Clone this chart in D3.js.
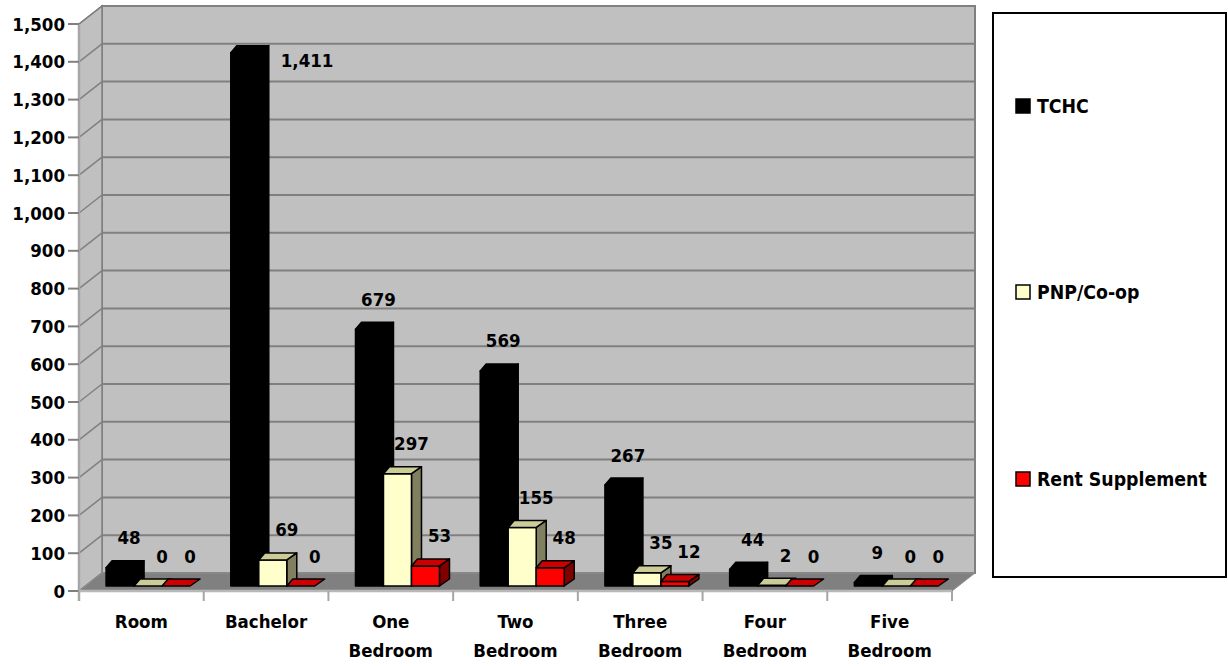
<!DOCTYPE html>
<html>
<head>
<meta charset="utf-8">
<script src="https://cdn.jsdelivr.net/npm/d3@7"></script>
<style>
  html, body { margin: 0; padding: 0; background: #fff; }
  svg text { font-family: "DejaVu Sans", Verdana, sans-serif; font-weight: bold; font-stretch: condensed; fill: #000; }
</style>
</head>
<body>
<svg id="chart" width="1228" height="666"></svg>
<script>
// Units by size, three housing providers
const categories = ["Room", "Bachelor", "One Bedroom", "Two Bedroom", "Three Bedroom", "Four Bedroom", "Five Bedroom"];
const seriesNames = ["TCHC", "PNP/Co-op", "Rent Supplement"];
const tchc = [48, 1411, 679, 569, 267, 44, 9];
const pnpCoop = [0, 69, 297, 155, 35, 2, 0];
const rentSupplement = [0, 0, 53, 48, 12, 0, 0];
const yTicks = [0, 100, 200, 300, 400, 500, 600, 700, 800, 900, 1000, 1100, 1200, 1300, 1400, 1500];

const seriesValues = [tchc, pnpCoop, rentSupplement];
const faceColors = [
  { front: "#000000", top: "#000000", side: "#000000" },
  { front: "#FFFFCC", top: "#CCCC99", side: "#808060" },
  { front: "#FF0000", top: "#CC0000", side: "#800000" }
];

const svg = d3.select("#chart");
const fmt = d3.format(",");

// Front plane of the 3D box and its depth shift
const frontLeft = 79, frontRight = 952;
const depthX = 23, depthY = -18;
const y = d3.scaleLinear().domain([0, 1500]).range([591, 24]);
const x = d3.scaleBand().domain(categories).range([frontLeft, frontRight]);
const barBase = 586;
const yBar = d3.scaleLinear().domain([0, 1500]).range([barBase, barBase - (y(0) - y(1500))]);
const sub = d3.scaleBand().domain(seriesNames)
  .range([x.bandwidth() * 0.217, x.bandwidth() * 0.217 + 84]);

// Back wall
const backTop = y(1500) + depthY, backBottom = y(0) + depthY;
svg.append("rect")
  .attr("x", frontLeft + depthX).attr("y", backTop)
  .attr("width", frontRight - frontLeft).attr("height", backBottom - backTop)
  .attr("fill", "#C0C0C0").attr("stroke", "#808080").attr("stroke-width", 2);

// Left side wall
svg.append("polygon")
  .attr("points", [[frontLeft, y(1500)], [frontLeft + depthX, backTop], [frontLeft + depthX, backBottom], [frontLeft, y(0)]].join(" "))
  .attr("fill", "#C0C0C0").attr("stroke", "#808080").attr("stroke-width", 1.5);

// Gridlines on back wall and their connectors on the side wall
const grid = svg.append("g");
yTicks.forEach(t => {
  grid.append("line")
    .attr("x1", frontLeft + depthX).attr("x2", frontRight + depthX)
    .attr("y1", y(t) + depthY).attr("y2", y(t) + depthY)
    .attr("stroke", "#808080").attr("stroke-width", 2);
  grid.append("line")
    .attr("x1", frontLeft).attr("x2", frontLeft + depthX)
    .attr("y1", y(t)).attr("y2", y(t) + depthY)
    .attr("stroke", "#808080").attr("stroke-width", 1.5);
});

// Floor
svg.append("polygon")
  .attr("points", [[frontLeft, y(0)], [frontLeft + depthX, backBottom], [frontRight + depthX, backBottom], [frontRight, y(0)]].join(" "))
  .attr("fill", "#808080").attr("stroke", "#909090").attr("stroke-width", 1);

// Value axis: front edge line, ticks, labels
svg.append("line")
  .attr("x1", frontLeft).attr("x2", frontLeft)
  .attr("y1", y(1500)).attr("y2", y(0) + 10)
  .attr("stroke", "#A6A6A6").attr("stroke-width", 2.5);
const yAxis = svg.append("g");
yTicks.forEach(t => {
  yAxis.append("line")
    .attr("x1", frontLeft - 11).attr("x2", frontLeft)
    .attr("y1", y(t)).attr("y2", y(t))
    .attr("stroke", "#808080").attr("stroke-width", 2);
  yAxis.append("text")
    .attr("x", frontLeft - 14).attr("y", y(t) + 6.5)
    .attr("text-anchor", "end")
    .attr("font-size", 18.5)
    .text(fmt(t));
});

// Category axis: front edge, ticks, labels
svg.append("line")
  .attr("x1", frontLeft).attr("x2", frontRight)
  .attr("y1", y(0)).attr("y2", y(0))
  .attr("stroke", "#B8B8B8").attr("stroke-width", 2.5);
const xEdges = categories.map(c => x(c)).concat([frontRight]);
xEdges.forEach(e => {
  svg.append("line")
    .attr("x1", e).attr("x2", e)
    .attr("y1", y(0)).attr("y2", y(0) + 10)
    .attr("stroke", "#A6A6A6").attr("stroke-width", 2);
});
categories.forEach(c => {
  const words = c.split(" ");
  const t = svg.append("text")
    .attr("x", x(c) + x.bandwidth() / 2)
    .attr("y", 628)
    .attr("text-anchor", "middle")
    .attr("font-size", 18.5);
  words.forEach((w, i) => {
    t.append("tspan")
      .attr("x", x(c) + x.bandwidth() / 2)
      .attr("dy", i === 0 ? 0 : 29)
      .text(w);
  });
});

// 3D columns
const topDxL = 6, topDxR = 10, topDy = -7;
const bars = svg.append("g");
const labelSpecs = [];
categories.forEach((c, ci) => {
  seriesNames.forEach((s, si) => {
    const v = seriesValues[si][ci];
    const x0 = x(c) + sub(s);
    const x1 = x0 + sub.bandwidth();
    const yt = yBar(v), yb = yBar(0);
    const col = faceColors[si];
    const g = bars.append("g")
      .attr("stroke", "#000").attr("stroke-width", 1.5).attr("stroke-linejoin", "round");
    if (v > 0) {
      g.append("polygon")
        .attr("points", [[x1, yt], [x1 + topDxR, yt + topDy], [x1 + topDxR, yb + topDy], [x1, yb]].join(" "))
        .attr("fill", col.side);
      g.append("rect")
        .attr("x", x0).attr("y", yt)
        .attr("width", x1 - x0).attr("height", yb - yt)
        .attr("fill", col.front);
    }
    g.append("polygon")
      .attr("points", [[x0, yt], [x0 + topDxL, yt + topDy], [x1 + topDxR, yt + topDy], [x1, yt]].join(" "))
      .attr("fill", col.top);
    labelSpecs.push({ v, x0, x1, yt, si });
  });
});

// Value labels
const labels = svg.append("g");
labelSpecs.forEach(d => {
  let cx = d.x0 + (d.si === 0 ? 23 : 28), cy = d.yt - 30, anchor = "middle";
  if (cy - 8 < y(1500)) {
    // no room above the column: set the label beside it
    cx = d.x1 + topDxR + 12; cy = d.yt + 8; anchor = "start";
  }
  labels.append("text")
    .attr("x", cx).attr("y", cy + 6.5)
    .attr("text-anchor", anchor)
    .attr("font-size", 18.5)
    .text(fmt(d.v));
});

// Legend
const legend = svg.append("g");
legend.append("rect")
  .attr("x", 993).attr("y", 13).attr("width", 233).attr("height", 564)
  .attr("fill", "#fff").attr("stroke", "#000").attr("stroke-width", 2);
const legendY = [106, 292, 479];
seriesNames.forEach((s, i) => {
  legend.append("rect")
    .attr("x", 1016).attr("y", legendY[i] - 7).attr("width", 14).attr("height", 14)
    .attr("fill", faceColors[i].front).attr("stroke", "#000").attr("stroke-width", 1.5);
  legend.append("text")
    .attr("x", 1037).attr("y", legendY[i] + 7)
    .attr("font-size", 19.3)
    .text(s);
});
</script>
</body>
</html>
